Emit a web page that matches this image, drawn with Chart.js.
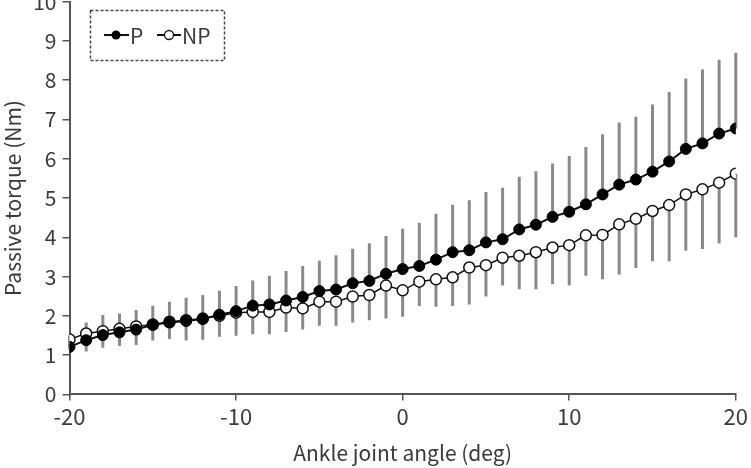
<!DOCTYPE html>
<html>
<head>
<meta charset="utf-8">
<script src="https://cdn.jsdelivr.net/npm/chart.js@4.4.1/dist/chart.umd.min.js"></script>
<style>
  html, body { margin: 0; padding: 0; background: #fff; overflow: hidden; }
  #marco { position: relative; width: 751px; height: 468px; overflow: hidden; }
  #caja { position: absolute; left: 0; top: -17px; width: 751px; height: 487px; }
</style>
</head>
<body>
<div id="marco"><div id="caja"><canvas id="grafica"></canvas></div></div>
<script>
// angulo del tobillo (deg)
const angulos = [-20, -19, -18, -17, -16, -15, -14, -13, -12, -11, -10, -9, -8, -7, -6, -5, -4, -3, -2, -1,
  0, 1, 2, 3, 4, 5, 6, 7, 8, 9, 10, 11, 12, 13, 14, 15, 16, 17, 18, 19, 20];

// P: media y desviacion (barra hacia arriba)
const mediaP = [1.21, 1.38, 1.51, 1.58, 1.65, 1.77, 1.83, 1.87, 1.92, 2.03, 2.12, 2.26, 2.29, 2.39, 2.48, 2.63, 2.67, 2.83, 2.89, 3.07,
  3.19, 3.27, 3.43, 3.62, 3.67, 3.87, 3.95, 4.20, 4.32, 4.52, 4.65, 4.84, 5.09, 5.34, 5.47, 5.67, 5.93, 6.25, 6.39, 6.64, 6.77];
const sdP = [0.29, 0.45, 0.51, 0.48, 0.50, 0.49, 0.53, 0.59, 0.61, 0.61, 0.64, 0.64, 0.73, 0.75, 0.79, 0.77, 0.87, 0.88, 0.96, 0.96,
  1.03, 1.10, 1.17, 1.21, 1.27, 1.28, 1.31, 1.34, 1.36, 1.36, 1.42, 1.46, 1.53, 1.58, 1.60, 1.71, 1.77, 1.79, 1.88, 1.88, 1.93];

// NP: media y desviacion (barra hacia abajo)
const mediaNP = [1.40, 1.55, 1.61, 1.67, 1.73, 1.78, 1.85, 1.89, 1.93, 2.00, 2.08, 2.10, 2.10, 2.21, 2.19, 2.36, 2.36, 2.49, 2.53, 2.77,
  2.65, 2.87, 2.93, 2.98, 3.23, 3.29, 3.48, 3.53, 3.62, 3.74, 3.80, 4.05, 4.06, 4.33, 4.47, 4.67, 4.82, 5.09, 5.22, 5.39, 5.62];
const sdNP = [0.25, 0.46, 0.42, 0.44, 0.47, 0.41, 0.44, 0.52, 0.54, 0.53, 0.59, 0.57, 0.57, 0.62, 0.54, 0.61, 0.61, 0.66, 0.64, 0.84,
  0.67, 0.62, 0.70, 0.73, 0.94, 0.80, 0.71, 0.85, 0.94, 0.93, 1.03, 1.03, 1.13, 1.28, 1.25, 1.28, 1.43, 1.43, 1.52, 1.55, 1.62];

const ticksX = [-20, -10, 0, 10, 20];
const ticksY = [0, 1, 2, 3, 4, 5, 6, 7, 8, 9, 10];

const FUENTE = "'Noto Sans CJK JP', 'Noto Sans', sans-serif";
const GRIS_TXT = "#3a3a3a";
const DESPLAZ = 17; // el canvas sube 17px (etiqueta 10 cortada arriba)

// barras de error: P hacia arriba, NP hacia abajo
const barrasError = {
  id: "barrasError",
  beforeDatasetsDraw(chart) {
    const ctx = chart.ctx;
    const x = chart.scales.x, y = chart.scales.y;
    ctx.save();
    ctx.strokeStyle = "#8a8a8a";
    ctx.lineWidth = 3;
    angulos.forEach((a, i) => {
      const px = x.getPixelForValue(a);
      ctx.beginPath();
      ctx.moveTo(px, y.getPixelForValue(mediaP[i]));
      ctx.lineTo(px, y.getPixelForValue(mediaP[i] + sdP[i]));
      ctx.moveTo(px, y.getPixelForValue(mediaNP[i]));
      ctx.lineTo(px, y.getPixelForValue(mediaNP[i] - sdNP[i]));
      ctx.stroke();
    });
    ctx.restore();
  }
};

// leyenda con recuadro punteado
const leyenda = {
  id: "leyenda",
  afterDraw(chart) {
    const ctx = chart.ctx;
    const dy = DESPLAZ;
    ctx.save();
    ctx.setLineDash([3, 2]);
    ctx.strokeStyle = "#444";
    ctx.lineWidth = 1.5;
    ctx.strokeRect(90.5, 10.5 + dy, 134, 50);
    ctx.setLineDash([]);

    ctx.strokeStyle = "#111";
    ctx.lineWidth = 2;
    ctx.beginPath();
    ctx.moveTo(104, 35 + dy); ctx.lineTo(129, 35 + dy);
    ctx.moveTo(157, 35 + dy); ctx.lineTo(181, 35 + dy);
    ctx.stroke();

    ctx.fillStyle = "#000";
    ctx.beginPath(); ctx.arc(116, 35 + dy, 4.5, 0, Math.PI * 2); ctx.fill();
    ctx.fillStyle = "#fff";
    ctx.lineWidth = 1.3;
    ctx.beginPath(); ctx.arc(169, 35 + dy, 4.5, 0, Math.PI * 2); ctx.fill(); ctx.stroke();

    ctx.fillStyle = GRIS_TXT;
    ctx.font = "21px " + FUENTE;
    ctx.textBaseline = "middle";
    ctx.fillText("P", 130, 36 + dy);
    ctx.fillText("NP", 182, 36 + dy);
    ctx.restore();
  }
};

new Chart(document.getElementById("grafica"), {
  type: "line",
  data: {
    datasets: [
      {
        label: "P",
        data: angulos.map((a, i) => ({ x: a, y: mediaP[i] })),
        borderColor: "#111",
        borderWidth: 2,
        pointRadius: 5.5,
        pointBackgroundColor: "#000",
        pointBorderColor: "#000",
        pointBorderWidth: 1,
        tension: 0
      },
      {
        label: "NP",
        data: angulos.map((a, i) => ({ x: a, y: mediaNP[i] })),
        borderColor: "#111",
        borderWidth: 1.5,
        pointRadius: 5.5,
        pointBackgroundColor: "#fff",
        pointBorderColor: "#111",
        pointBorderWidth: 1.5,
        tension: 0
      }
    ]
  },
  options: {
    responsive: true,
    maintainAspectRatio: false,
    animation: false,
    layout: { padding: { top: 0, right: 14, bottom: 4, left: 0 } },
    plugins: {
      legend: { display: false },
      tooltip: { enabled: false }
    },
    scales: {
      x: {
        type: "linear",
        min: -20, max: 20,
        afterBuildTicks: s => { s.ticks = ticksX.map(v => ({ value: v })); },
        ticks: { color: GRIS_TXT, font: { family: FUENTE, size: 22 }, padding: 3, maxRotation: 0 },
        grid: { drawOnChartArea: false, tickLength: 6, color: "#555", lineWidth: 1.5 },
        border: { color: "#555", width: 2 },
        title: { display: true, text: "Ankle joint angle (deg)", color: GRIS_TXT, font: { family: FUENTE, size: 21 }, padding: { top: 8, bottom: 0 } }
      },
      y: {
        min: 0, max: 10,
        afterBuildTicks: s => { s.ticks = ticksY.map(v => ({ value: v })); },
        ticks: { color: GRIS_TXT, font: { family: FUENTE, size: 21 }, padding: 6 },
        grid: { drawOnChartArea: false, tickLength: 7, color: "#555", lineWidth: 1.5 },
        border: { color: "#555", width: 2 },
        title: { display: true, text: "Passive torque (Nm)", color: GRIS_TXT, font: { family: FUENTE, size: 21 }, padding: { top: 0, bottom: 2 } }
      }
    }
  },
  plugins: [barrasError, leyenda]
});
</script>
</body>
</html>
